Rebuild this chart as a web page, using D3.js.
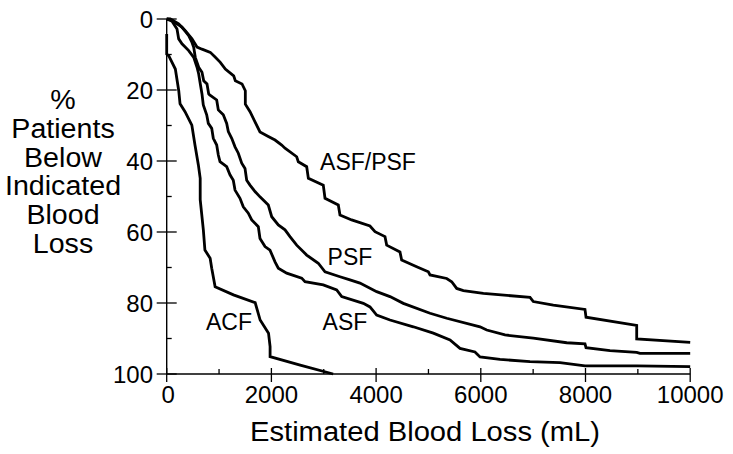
<!DOCTYPE html>
<html><head><meta charset="utf-8">
<script src="https://cdn.jsdelivr.net/npm/d3@7"></script>
<style>
html,body{margin:0;padding:0;background:#fff;}
text{font-family:"Liberation Sans",Arial,Helvetica,sans-serif;fill:#000;}
</style></head>
<body><svg id="c" width="733" height="454"></svg>
<script>
// Estimated blood loss (mL) vs % patients below indicated blood loss
const xTicks = [0, 2000, 4000, 6000, 8000, 10000];
const xMinor = [1000, 3000, 5000, 7000, 9000];
const yTicks = [0, 20, 40, 60, 80, 100];
const yMinor = [10, 30, 50, 70, 90];
const yTitleLines = ["%", "Patients", "Below", "Indicated", "Blood", "Loss"];
const xTitle = "Estimated Blood Loss (mL)";

const acfX = [0,0,40,165,230,255,350,480,540,605,640,640,700,730,830,860,925,1275,1690,1785,1945,1975,1975,2550,3180];
const acfY = [4.2,9.9,10.4,14.1,20.2,23.9,26.1,29.9,35.5,41.1,44.9,50.9,59.4,65.1,67.4,70.2,75.4,77.7,79.9,84.8,88.5,92.3,95.1,97.5,100];

const asfX = [0,101,197,229,292,420,516,579,611,642,674,699,764,795,860,890,955,986,1018,1146,1209,1272,1305,1400,1463,1559,1624,1750,1782,1878,1973,2069,2132,2292,2579,2642,2991,3247,3343,3756,3883,4011,4265,4711,5093,5412,5603,5889,5985,6367,6940,7513,7991,8978,10000];
const asfY = [0,0.6,2.8,5.6,7.0,8.9,10.8,13.6,15.5,18.3,21.1,24.2,27.0,29.4,30.8,33.6,35.5,38.3,40.2,41.6,43.9,45.4,48.2,50.5,52.9,54.7,56.6,58.5,61.8,64.1,65.1,68.4,70.2,71.6,73.0,74.0,74.9,76.3,78.2,80.1,81.1,83.4,84.8,86.7,88.5,90.4,92.8,93.8,95.2,95.9,96.5,96.8,97.7,97.7,97.9];

const psfX = [0,63,292,420,483,516,546,611,674,707,770,802,821,955,986,1081,1146,1177,1242,1305,1368,1433,1496,1528,1591,1687,1782,1941,2006,2132,2260,2355,2483,2674,2896,3024,3310,3501,3692,4011,4265,4520,5030,5349,5985,6113,6462,7003,7641,7990,8010,8468,8978,9040,10000];
const psfY = [0,0.1,2.3,4.7,6.6,8.0,10.8,13.6,15.0,17.4,18.3,21.1,21.4,22.8,25.6,27.0,29.4,31.7,33.6,36.0,37.8,40.6,42.1,45.4,46.8,48.6,50.1,52.4,55.7,58.0,59.4,61.3,63.7,66.5,68.8,71.2,72.6,73.5,74.4,76.8,78.2,80.1,82.9,84.3,86.7,87.6,89.0,89.9,91.2,91.5,92.6,93.4,93.9,94.2,94.2];

const apX = [0,69,229,355,483,579,674,833,929,1024,1120,1280,1311,1439,1502,1502,1592,1687,1782,1941,2069,2197,2260,2483,2514,2674,2706,2991,3024,3278,3310,3533,3883,3979,4170,4202,4456,4488,4775,4998,5030,5349,5444,5540,5667,6049,6940,7003,7385,7990,8010,8978,8978,10000];
const apY = [0,0,1.4,3.3,5.6,7.9,8.5,9.4,10.8,12.2,14.1,16.0,17.4,18.3,20.2,24.0,26.1,29.0,31.8,33.1,34.1,35.5,36.4,38.8,40.2,41.6,44.9,46.8,50.5,52.4,55.2,56.6,58.3,59.9,61.3,63.7,65.6,67.9,69.8,71.2,72.1,73.1,74.0,75.9,76.5,77.3,78.4,79.6,80.6,81.8,84.0,86.3,90.1,91.1];

const seriesNames = ["ACF", "ASF", "PSF", "ASF/PSF"];
const seriesX = [acfX, asfX, psfX, apX];
const seriesY = [acfY, asfY, psfY, apY];
// label anchor (data units) for each series label
const labelX = [1190, 3405, 3501, 3845];
const labelY = [87.6, 87.6, 69.3, 42.5];

const svg = d3.select("#c");
const x = d3.scaleLinear().domain([0, 10000]).range([166.7, 690.2]);
const y = d3.scaleLinear().domain([0, 100]).range([19, 374]);

const axisColor = "#000";
const g = svg.append("g");

// y axis line
g.append("line").attr("x1", x(0)).attr("x2", x(0)).attr("y1", y(0)).attr("y2", y(100))
  .attr("stroke", axisColor).attr("stroke-width", 1.4);
// x axis line
g.append("line").attr("x1", x(0)).attr("x2", x(10000)).attr("y1", y(100)).attr("y2", y(100))
  .attr("stroke", axisColor).attr("stroke-width", 1.4);

// y ticks
yTicks.forEach(v => {
  g.append("line").attr("x1", x(0) - 10).attr("x2", x(0) + 10).attr("y1", y(v)).attr("y2", y(v))
    .attr("stroke", axisColor).attr("stroke-width", 1.3);
  g.append("text").attr("x", 153).attr("y", y(v)).attr("dy", "0.36em")
    .attr("text-anchor", "end").attr("font-size", 24).text(v);
});
yMinor.forEach(v => {
  g.append("line").attr("x1", x(0)).attr("x2", x(0) + 5).attr("y1", y(v)).attr("y2", y(v))
    .attr("stroke", axisColor).attr("stroke-width", 1.3);
});
// x ticks
xTicks.forEach(v => {
  g.append("line").attr("x1", x(v)).attr("x2", x(v)).attr("y1", y(100) - 6).attr("y2", y(100) + 8)
    .attr("stroke", axisColor).attr("stroke-width", 1.3);
  g.append("text").attr("x", x(v) + (v === 0 ? 1.5 : 0)).attr("y", 402.5)
    .attr("text-anchor", "middle").attr("font-size", 24).text(v);
});
xMinor.forEach(v => {
  g.append("line").attr("x1", x(v)).attr("x2", x(v)).attr("y1", y(100) - 5).attr("y2", y(100))
    .attr("stroke", axisColor).attr("stroke-width", 1.3);
});

// titles
svg.append("g").attr("transform", "translate(425,441) scale(1.08,1)")
  .append("text").attr("text-anchor", "middle").attr("font-size", 27).text(xTitle);
yTitleLines.forEach((t, i) => {
  svg.append("g").attr("transform", `translate(63,${109 + i * 28.8}) scale(1.06,1)`)
    .append("text").attr("text-anchor", "middle").attr("font-size", 27).text(t);
});

// curves
const line = d3.line().x(d => x(d[0])).y(d => y(d[1]));
seriesNames.forEach((name, i) => {
  const pts = seriesX[i].map((v, j) => [v, seriesY[i][j]]);
  svg.append("path").attr("d", line(pts)).attr("fill", "none")
    .attr("stroke", "#000").attr("stroke-width", 2.8)
    .attr("stroke-linejoin", "miter").attr("stroke-linecap", "butt");
});
// curve labels
seriesNames.forEach((name, i) => {
  svg.append("text").attr("x", x(labelX[i])).attr("y", y(labelY[i]))
    .attr("text-anchor", "middle").attr("font-size", 23).text(name);
});
</script></body></html>
